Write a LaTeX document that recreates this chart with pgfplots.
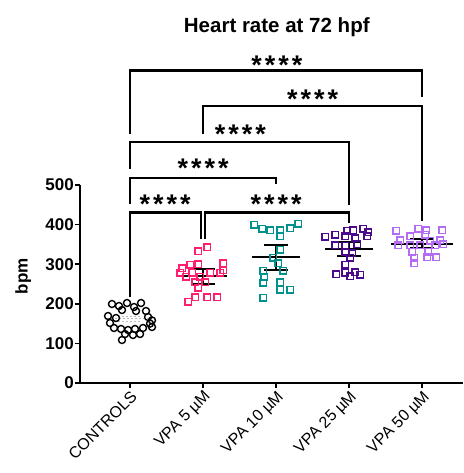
\documentclass[border=0pt]{standalone}
\usepackage{fontspec}
\setmainfont{Liberation Sans}
\usepackage{pgfplots}
\pgfplotsset{compat=1.18}
\definecolor{cpink}{HTML}{FF1F6E}
\definecolor{cteal}{HTML}{00908E}
\definecolor{cdpurp}{HTML}{4B0A8C}
\definecolor{clpurp}{HTML}{B46CF5}
\newcommand{\stars}{*\kern3pt*\kern3pt*\kern3pt*}
\begin{document}
\begin{tikzpicture}
\begin{axis}[
  scale only axis, width=383pt, height=198pt,
  xmin=-0.685, xmax=4.56, ymin=0, ymax=500,
  axis lines=left, axis line style={-, line width=1.6pt},
  clip=false,
  xtick={0,1,2,3,4},
  xticklabels={CONTROLS, VPA 5 µM, VPA 10 µM, VPA 25 µM, VPA 50 µM},
  ytick={0,100,...,500},
  tick align=outside, major tick length=5pt,
  tick style={line width=1.5pt, black},
  xticklabel style={rotate=45, anchor=north east, inner sep=1pt, font=\fontsize{16}{16}\selectfont},
  yticklabel style={font=\fontsize{17}{17}\selectfont\bfseries, inner sep=1pt},
  /pgf/number format/assume math mode=true,
  ylabel={bpm},
  ylabel style={font=\fontsize{17}{17}\selectfont\bfseries, at={(axis description cs:-0.148,0.54)}, anchor=center},
]
% CONTROLS
\addplot[only marks, mark=o, mark size=3.5pt, mark options={line width=1.4pt, black}] coordinates {
(-0.247,199.5) (-0.151,194.4) (-0.041,202.0) (0.055,191.9) (0.151,202.0)
(-0.110,184.3) (0.082,181.8) (0.219,181.8)
(-0.301,169.2) (-0.192,164.1) (0.247,166.7) (0.301,158.1)
(-0.274,151.5) (0.274,150.0)
(-0.219,138.9) (-0.123,136.4) (-0.027,133.8) (0.068,136.4) (0.178,138.9) (0.301,141.4)
(-0.068,123.7) (0.041,121.2) (0.137,123.7)
(-0.110,108.6)
};
% VPA 5
\addplot[only marks, mark=square, mark size=3.2pt, mark options={line width=1.4pt, cpink}] coordinates {
(0.932,333) (1.055,343) (0.822,298) (0.932,300) (1.274,303) (0.712,290) (1.274,285)
(0.685,278) (0.849,278) (1.096,278) (1.233,278) (0.767,268) (0.959,268)
(0.890,255) (1.027,255) (0.932,240) (0.890,217) (1.055,217) (1.192,217) (0.795,205)
};
% VPA 10
\addplot[only marks, mark=square, mark size=3.2pt, mark options={line width=1.4pt, cteal}] coordinates {
(1.699,399) (1.808,389) (1.918,386) (2.055,386) (2.192,391) (2.301,402)
(2.055,371) (2.055,336) (1.959,316) (2.027,303) (1.822,283) (2.096,283)
(1.836,268) (2.055,255) (1.822,253) (2.055,235) (2.192,235) (1.822,215)
};
% VPA 25
\addplot[only marks, mark=square, mark size=3.2pt, mark options={line width=1.4pt, cdpurp}] coordinates {
(2.973,384) (3.055,386) (3.192,389) (3.260,381)
(2.671,369) (2.808,374) (2.945,371) (3.082,366) (3.247,371)
(2.808,348) (2.945,346) (3.110,351)
(2.945,331) (3.041,328) (3.014,316) (2.945,298)
(3.082,280) (2.945,278) (2.822,275) (3.014,270) (3.151,273)
};
% VPA 50
\addplot[only marks, mark=square, mark size=3.2pt, mark options={line width=1.4pt, clpurp}] coordinates {
(3.644,384) (3.945,389) (4.055,386) (4.274,386)
(3.836,371) (4.041,374) (3.699,361) (4.110,359) (4.247,361)
(3.671,348) (3.836,348) (3.973,348) (4.178,348) (4.288,351)
(3.863,331) (4.082,331) (3.890,316) (4.068,318) (4.192,318) (3.890,303)
};
% means and SEM
\addplot[gray!55, line width=1.3pt, dash pattern=on 2pt off 2pt] coordinates {(-0.315,162) (0.315,162)};
\addplot[gray!55, line width=1.3pt, dash pattern=on 2pt off 2pt] coordinates {(-0.16,168) (0.16,168)};
\addplot[gray!55, line width=1.3pt, dash pattern=on 2pt off 2pt] coordinates {(-0.16,156) (0.16,156)};
\addplot[black, line width=1.6pt] coordinates {(0.67,270) (1.33,270)};
\addplot[black, line width=1.6pt] coordinates {(0.84,288) (1.16,288)};
\addplot[black, line width=1.6pt] coordinates {(0.84,250) (1.16,250)};
\addplot[black, line width=1.6pt] coordinates {(1,250) (1,288)};
\addplot[black, line width=1.6pt] coordinates {(1.67,318) (2.33,318)};
\addplot[black, line width=1.6pt] coordinates {(1.84,348) (2.16,348)};
\addplot[black, line width=1.6pt] coordinates {(1.84,285) (2.16,285)};
\addplot[black, line width=1.6pt] coordinates {(2,285) (2,348)};
\addplot[black, line width=1.6pt] coordinates {(2.67,338) (3.33,338)};
\addplot[black, line width=1.6pt] coordinates {(2.84,356) (3.16,356)};
\addplot[black, line width=1.6pt] coordinates {(2.84,321) (3.16,321)};
\addplot[black, line width=1.6pt] coordinates {(3,321) (3,356)};
\addplot[black, line width=1.6pt] coordinates {(3.58,351) (4.42,351)};
\addplot[black, line width=1.6pt] coordinates {(3.84,364) (4.16,364)};
\addplot[black, line width=1.6pt] coordinates {(3.84,341) (4.16,341)};
\addplot[black, line width=1.6pt] coordinates {(4,341) (4,364)};
% brackets
\addplot[black, line width=2.4pt] coordinates {(0,629) (0,789) (4,789) (4,721)};
\addplot[black, line width=2.4pt] coordinates {(1,629) (1,700) (4,700) (4,409)};
\addplot[black, line width=2.4pt] coordinates {(0,541) (0,609) (3,609) (3,450)};
\addplot[black, line width=2.4pt] coordinates {(0,452) (0,518) (2,518) (2,503)};
\addplot[black, line width=2.4pt] coordinates {(0,216) (0,431) (0.975,431) (0.975,363)};
\addplot[black, line width=2.4pt] coordinates {(1.025,363) (1.025,431) (3,431) (3,404)};
% stars
\node[font=\fontsize{27}{27}\selectfont\bfseries, anchor=base] at (axis cs:2.01,780) {\stars};
\node[font=\fontsize{27}{27}\selectfont\bfseries, anchor=base] at (axis cs:2.5,694) {\stars};
\node[font=\fontsize{27}{27}\selectfont\bfseries, anchor=base] at (axis cs:1.51,606) {\stars};
\node[font=\fontsize{27}{27}\selectfont\bfseries, anchor=base] at (axis cs:1.0,518) {\stars};
\node[font=\fontsize{27}{27}\selectfont\bfseries, anchor=base] at (axis cs:0.48,429) {\stars};
\node[font=\fontsize{27}{27}\selectfont\bfseries, anchor=base] at (axis cs:2.0,429) {\stars};
% title
\node[font=\fontsize{20.5}{20.5}\selectfont\bfseries, anchor=base] at (axis cs:2.01,886) {Heart rate at 72 hpf};
\end{axis}
\pgfresetboundingbox
\path (-80pt,-90pt) rectangle (383pt,383pt);
\end{tikzpicture}
\end{document}
